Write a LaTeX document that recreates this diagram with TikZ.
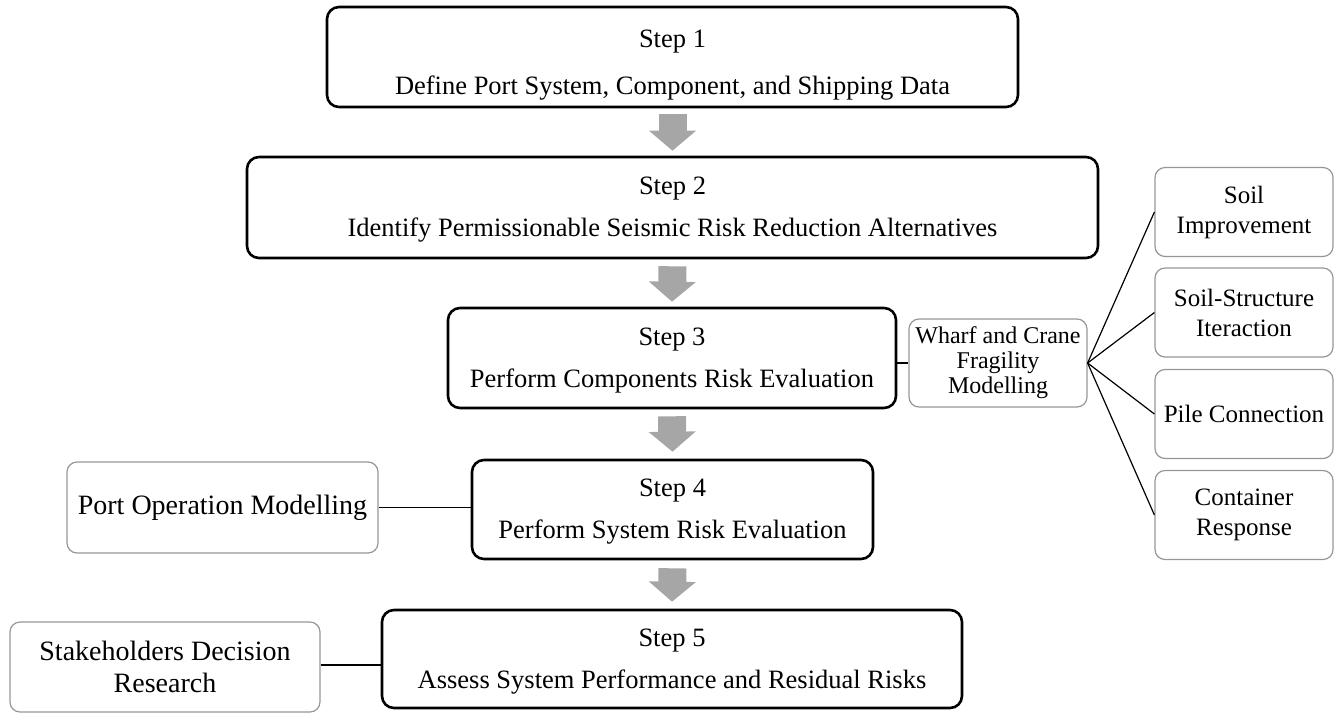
\documentclass[tikz,border=0pt]{standalone}
\usepackage{fontspec}
\setmainfont{Liberation Serif}
\usetikzlibrary{arrows.meta}
\definecolor{arrowgray}{RGB}{166,166,166}
\definecolor{boxgray}{RGB}{150,150,150}
\newcommand{\hstrut}[1]{\rule{0pt}{#1}}

\begin{document}
\begin{tikzpicture}[x=1pt,y=1pt,
  stepbox/.style={draw,line width=2.6pt,rounded corners=12pt,align=center,inner sep=0pt,font=\fontsize{26.5}{42}\selectfont},
  sidebox/.style={draw=boxgray,line width=1.2pt,rounded corners=10pt,align=center,inner sep=0pt,font=\fontsize{28}{32}\selectfont},
  subbox/.style={draw=boxgray,line width=1.2pt,rounded corners=10pt,align=center,inner sep=0pt,minimum width=178pt,minimum height=89pt,font=\fontsize{25}{30}\selectfont},
  flowarrow/.style={draw=arrowgray,line width=28pt,-{Triangle[length=20pt,width=46pt]}},
  link/.style={line width=1.2pt}]
\useasboundingbox (0,0) rectangle (1335,-713);

% main steps
\node[stepbox,minimum width=691pt,minimum height=100pt,font=\fontsize{26.5}{47}\selectfont] (s1) at (672.5,-57) {\hstrut{34pt}Step 1\\Define Port System, Component, and Shipping Data};
\node[stepbox,minimum width=851pt,minimum height=101pt] (s2) at (672.5,-207.5) {\hstrut{22pt}Step 2\\Identify Permissionable Seismic Risk Reduction Alternatives};
\node[stepbox,minimum width=448pt,minimum height=100pt] (s3) at (672,-358) {\hstrut{22pt}Step 3\\Perform Components Risk Evaluation};
\node[stepbox,minimum width=401pt,minimum height=99pt] (s4) at (672.5,-509.5) {\hstrut{22pt}Step 4\\Perform System Risk Evaluation};
\node[stepbox,minimum width=580pt,minimum height=98pt] (s5) at (672,-659) {\hstrut{22pt}Step 5\\Assess System Performance and Residual Risks};

\draw[flowarrow] ([yshift=-6pt]s1.south) -- ([yshift=5pt]s2.north);
\draw[flowarrow] ([yshift=-7pt]s2.south) -- ([yshift=5pt]s3.north);
\draw[flowarrow] ([yshift=-7pt]s3.south) -- ([yshift=7pt]s4.north);
\draw[flowarrow] ([yshift=-8pt]s4.south) -- ([yshift=7pt]s5.north);

% side boxes
\node[sidebox,font=\fontsize{24}{25}\selectfont,minimum width=178pt,minimum height=88pt] (wharf) at (998,-363) {Wharf and Crane\\Fragility\\Modelling};
\node[sidebox,minimum width=311pt,minimum height=91pt] (port) at (222.5,-507.5) {Port Operation Modelling};
\node[sidebox,minimum width=310pt,minimum height=90pt] (stake) at (165,-667) {Stakeholders Decision\\Research};

\node[subbox] (soil) at (1244,-212) {Soil\\Improvement};
\node[subbox] (ssi) at (1244,-312.5) {Soil-Structure\\Iteraction};
\node[subbox] (pile) at (1244,-414) {Pile Connection};
\node[subbox] (cont) at (1244,-515) {Container\\Response};

% connectors
\draw[link] (s3.east |- wharf.west) -- (wharf.west);
\draw[link] (port.east) -- (port.east -| s4.west);
\draw[link] ([yshift=2pt]stake.east) -- ([yshift=2pt]stake.east -| s5.west);
\foreach \n in {soil,ssi,pile,cont}
  \draw[link] (wharf.east) -- (\n.west);
\end{tikzpicture}
\end{document}
